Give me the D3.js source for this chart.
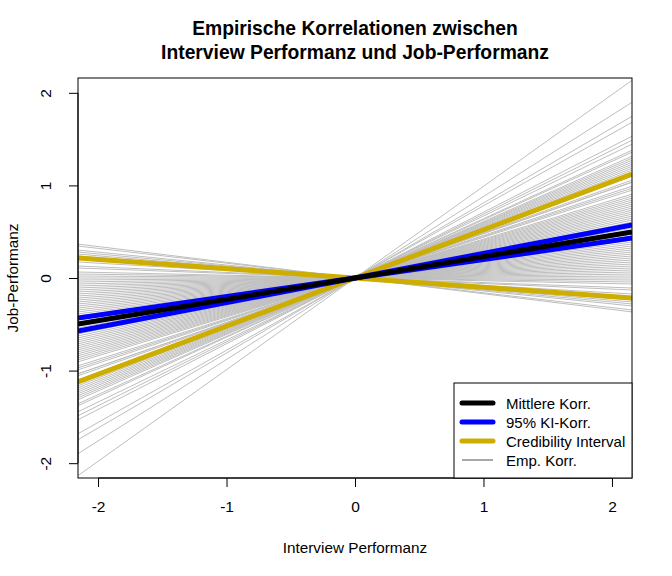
<!DOCTYPE html>
<html>
<head>
<meta charset="utf-8">
<script src="https://cdn.jsdelivr.net/npm/d3@7"></script>
<style>
  body { margin: 0; background: #fff; }
  text { font-family: "Liberation Sans", Arial, sans-serif; }
</style>
</head>
<body>
<div id="chart"></div>
<script>
const width = 672;
const height = 576;
const plot = { left: 78, right: 632, top: 78, bottom: 478 };

// empirische Korrelationen (Steigungen der grauen Linien)
const empKorr = [
  0.99, 0.88, 0.81, 0.78, 0.71, 0.69, 0.67, 0.64, 0.63, 0.61, 0.60, 0.59,
  0.58, 0.57, 0.56, 0.55, 0.54,
  0.51, 0.49, 0.48, 0.48, 0.46, 0.45, 0.44, 0.42, 0.41, 0.40, 0.39, 0.38,
  0.37, 0.36, 0.35, 0.34, 0.33, 0.32, 0.31, 0.30, 0.29, 0.28, 0.27,
  0.26, 0.25, 0.24, 0.23, 0.22, 0.21,
  0.19, 0.18, 0.17, 0.16, 0.15, 0.14, 0.13, 0.12, 0.11, 0.10, 0.09, 0.08,
  0.07, 0.06, 0.05, 0.04, 0.03, 0.02, 0.01, 0.00, -0.01, -0.02, -0.03,
  -0.05, -0.06, -0.08,
  -0.11, -0.12, -0.13, -0.14, -0.16, -0.17
];
const mittlereKorr = 0.23;
const kiKorr = [0.20, 0.266];
const credInterval = [-0.10, 0.52];

const xTicks = [-2, -1, 0, 1, 2];
const yTicks = [-2, -1, 0, 1, 2];
const legendLabels = ["Mittlere Korr.", "95% KI-Korr.", "Credibility Interval", "Emp. Korr."];
const legendColors = ["#000000", "#0000ff", "#cdad00", "#a8a8a8"];
const legendWidths = [5, 5, 5, 2];

const x = d3.scaleLinear().domain([-2.156, 2.156]).range([plot.left, plot.right]);
const y = d3.scaleLinear().domain([-2.16, 2.16]).range([plot.bottom, plot.top]);

const svg = d3.select("#chart").append("svg")
    .attr("width", width)
    .attr("height", height);

svg.append("clipPath").attr("id", "clip")
  .append("rect")
    .attr("x", plot.left).attr("y", plot.top)
    .attr("width", plot.right - plot.left).attr("height", plot.bottom - plot.top);

const lines = svg.append("g").attr("clip-path", "url(#clip)");

// abline(0, b) ueber die ganze Breite
function abline(b, color, lw) {
  const x0 = x.domain()[0], x1 = x.domain()[1];
  lines.append("line")
    .attr("x1", x(x0)).attr("y1", y(b * x0))
    .attr("x2", x(x1)).attr("y2", y(b * x1))
    .attr("stroke", color)
    .attr("stroke-width", lw);
}

empKorr.forEach(b => abline(b, "#bebebe", 1));
credInterval.forEach(b => abline(b, "#cdad00", 5));
kiKorr.forEach(b => abline(b, "#0000ff", 5));
abline(mittlereKorr, "#000000", 5);

// Rahmen
svg.append("rect")
    .attr("x", plot.left).attr("y", plot.top)
    .attr("width", plot.right - plot.left).attr("height", plot.bottom - plot.top)
    .attr("fill", "none").attr("stroke", "#000").attr("stroke-width", 1);

// Achsen
const xAxis = svg.append("g")
    .attr("transform", `translate(0,${plot.bottom})`)
    .call(d3.axisBottom(x).tickValues(xTicks).tickSize(9).tickPadding(14).tickFormat(d => String(d)));
xAxis.select(".domain").remove();
xAxis.append("line")
    .attr("x1", x(-2)).attr("x2", x(2)).attr("stroke", "#000");

const yAxis = svg.append("g")
    .attr("transform", `translate(${plot.left},0)`)
    .call(d3.axisLeft(y).tickValues(yTicks).tickSize(9).tickFormat(d => String(d)));
yAxis.select(".domain").remove();
yAxis.selectAll(".tick text")
    .attr("x", 0).attr("dy", 0)
    .attr("text-anchor", "middle")
    .attr("transform", "translate(-27,0) rotate(-90)");
yAxis.append("line")
    .attr("y1", y(-2)).attr("y2", y(2)).attr("stroke", "#000");

svg.selectAll(".tick text")
    .attr("font-size", 15.5)
    .attr("font-family", "Liberation Sans, Arial, sans-serif")
    .attr("fill", "#000");
svg.selectAll(".tick line").attr("stroke", "#000");

// Titel
svg.append("text")
    .attr("x", 355).attr("y", 35)
    .attr("text-anchor", "middle")
    .attr("font-size", 19.3).attr("font-weight", "bold")
    .text("Empirische Korrelationen zwischen");
svg.append("text")
    .attr("x", 355).attr("y", 59)
    .attr("text-anchor", "middle")
    .attr("font-size", 19.3).attr("font-weight", "bold")
    .text("Interview Performanz und Job-Performanz");

// Achsentitel
svg.append("text")
    .attr("x", 355).attr("y", 553)
    .attr("text-anchor", "middle")
    .attr("font-size", 15.3)
    .text("Interview Performanz");
svg.append("text")
    .attr("transform", `translate(18,${(plot.top + plot.bottom) / 2}) rotate(-90)`)
    .attr("text-anchor", "middle")
    .attr("font-size", 15.3)
    .text("Job-Performanz");

// Legende
const legend = svg.append("g");
legend.append("rect")
    .attr("x", 454).attr("y", 383)
    .attr("width", plot.right - 454).attr("height", plot.bottom - 383)
    .attr("fill", "#fff").attr("stroke", "#000");

legendLabels.forEach((lab, i) => {
  const ly = 403 + i * 19;
  legend.append("line")
      .attr("x1", 462).attr("x2", 493)
      .attr("y1", ly).attr("y2", ly)
      .attr("stroke", legendColors[i])
      .attr("stroke-width", legendWidths[i])
      .attr("stroke-linecap", i < 3 ? "round" : "butt");
  legend.append("text")
      .attr("x", 506).attr("y", ly + 5.5)
      .attr("font-size", 15)
      .text(lab);
});
</script>
</body>
</html>
